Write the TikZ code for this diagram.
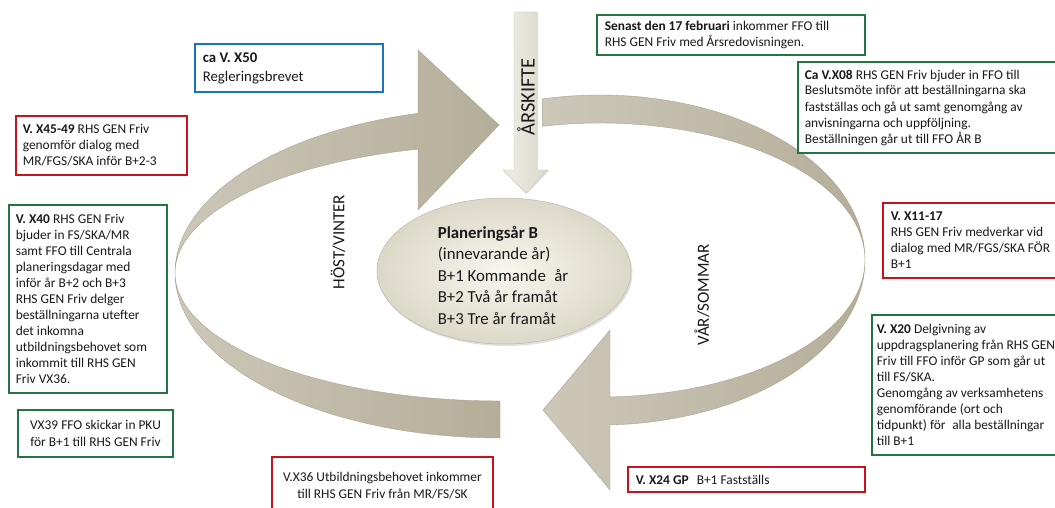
\documentclass[tikz,border=0pt]{standalone}
\usepackage{fontspec}
\setmainfont{Carlito}
\usetikzlibrary{shapes.geometric,shadows}
\definecolor{bred}{RGB}{200,18,30}
\definecolor{bgreen}{RGB}{34,118,68}
\definecolor{bblue}{RGB}{22,116,196}
\definecolor{tanA}{RGB}{204,199,184}
\definecolor{tanB}{RGB}{180,174,153}
\definecolor{tanEdge}{RGB}{170,164,145}
\definecolor{ellIn}{RGB}{248,246,238}
\definecolor{ellOut}{RGB}{220,216,200}
\definecolor{ellEdge}{RGB}{190,186,172}
\definecolor{arsA}{RGB}{240,238,230}
\definecolor{arsB}{RGB}{218,215,203}
\definecolor{arsEdge}{RGB}{200,197,186}
\definecolor{txtc}{RGB}{25,25,25}
\begin{document}
\begin{tikzpicture}[x=1pt,y=-1pt,
  frame/.style={draw, line width=2.8pt, fill=white, inner sep=0pt,
    drop shadow={opacity=0.25,shadow xshift=1.2pt,shadow yshift=-1.2pt}},
  txt/.style={inner sep=0pt, align=left, anchor=west, text=txtc, font=\fontsize{13.4}{16}\selectfont},
  ctxt/.style={inner sep=0pt, align=center, text=txtc, font=\fontsize{13.4}{17}\selectfont},
  band/.style={left color=tanA, right color=tanB, draw=tanEdge, line width=0.4pt},
  season/.style={rotate=90, inner sep=0pt, text=txtc, font=\fontsize{17}{20}\selectfont}
]
\useasboundingbox (0,0) rectangle (1055,508);
\clip (0,0) rectangle (1055,508);
\fill[white] (0,0) rectangle (1055,508);

% circular arrow 1 (HÖST/VINTER)
\path[band] plot[domain=90:255.4, samples=90, variable=\t] ({500+325*cos(\t)},{273+165*sin(\t)})
  -- (418,50) -- (499,125) -- (418,210)
  -- plot[domain=255.4:90, samples=90, variable=\t] ({500+325*cos(\t)},{273+128*sin(\t)}) -- cycle;

% circular arrow 2 (VÅR/SOMMAR)
\path[band] plot[domain=257.4:447.84, samples=120, variable=\t] ({600+265*cos(\t)},{260+165*sin(\t)})
  -- (610,490) -- (543,410) -- (610,330)
  -- plot[domain=447.84:257.4, samples=120, variable=\t] ({600+265*cos(\t)},{260+137*sin(\t)}) -- cycle;

% ÅRSKIFTE arrow
\path[left color=arsA, right color=arsB, draw=arsEdge, line width=0.4pt,
  drop shadow={opacity=0.2,shadow xshift=1pt,shadow yshift=-1pt}]
  (514,12) -- (537,12) -- (537,170) -- (548,170) -- (526,193) -- (503,170) -- (514,170) -- cycle;
\node[season, font=\fontsize{20.5}{22}\selectfont] (ars) at (526,97) {ÅRSKIFTE};

% centre ellipse
\node[ellipse, minimum width=254pt, minimum height=146pt, inner color=ellIn, outer color=ellOut,
  draw=ellEdge, line width=0.5pt,
  drop shadow={opacity=0.25,shadow xshift=1.5pt,shadow yshift=-2pt}] (plan) at (504,271) {};
\node[inner sep=0pt, align=left, text=txtc, font=\fontsize{16.8}{21.5}\selectfont] (plantext) at (503,275)
  {\textbf{Planeringsår B}\\(innevarande år)\\B+1 Kommande\hspace{0.5em}år\\B+2 Två år framåt\\B+3 Tre år framåt};

% season labels
\node[season] (hv) at (338,242) {HÖST/VINTER};
\node[season] (vs) at (702,295) {VÅR/SOMMAR};

% boxes
\node[frame, draw=bblue, minimum width=188pt, minimum height=48pt] (bx50) at (289,68) {};
\node[txt, font=\fontsize{14.8}{19}\selectfont] (bx50t) at ([xshift=9pt]bx50.west) {\textbf{ca V. X50}\\Regleringsbrevet};

\node[frame, draw=bred, minimum width=171pt, minimum height=59pt] (bx45) at (101.5,145.5) {};
\node[txt] (bx45t) at ([xshift=8pt]bx45.west) {\textbf{V. X45-49} RHS GEN Friv\\genomför dialog med\\MR/FGS/SKA inför B+2-3};

\node[frame, draw=bgreen, minimum width=268pt, minimum height=40pt] (bx17) at (731,35) {};
\node[txt] (bx17t) at ([xshift=9pt]bx17.west) {\textbf{Senast den 17 februari} inkommer FFO till\\RHS GEN Friv med Årsredovisningen.};

\node[frame, draw=bgreen, minimum width=277pt, minimum height=91pt] (bx08) at (936.5,107.5) {};
\node[txt] (bx08t) at ([xshift=8pt]bx08.west) {\textbf{Ca V.X08} RHS GEN Friv bjuder in FFO till\\Beslutsmöte inför att beställningarna ska\\fastställas och gå ut samt genomgång av\\anvisningarna och uppföljning.\\Beställningen går ut till FFO ÅR B};

\node[frame, draw=bgreen, minimum width=158pt, minimum height=188pt] (bx40) at (88,299) {};
\node[txt] (bx40t) at ([xshift=8pt]bx40.west) {\textbf{V. X40} RHS GEN Friv\\bjuder in FS/SKA/MR\\samt FFO till Centrala\\planeringsdagar med\\inför år B+2 och B+3\\RHS GEN Friv delger\\beställningarna utefter\\det inkomna\\utbildningsbehovet som\\inkommit till RHS GEN\\Friv VX36.};

\node[frame, draw=bgreen, minimum width=155pt, minimum height=47pt] (bx39) at (95.5,433.5) {};
\node[ctxt] (bx39t) at (bx39.center) {VX39 FFO skickar in PKU\\för B+1 till RHS GEN Friv};

\node[frame, draw=bred, minimum width=192pt, minimum height=75pt] (bx11) at (979,240.5) {};
\node[txt] (bx11t) at ([xshift=9pt]bx11.west) {\textbf{V. X11-17}\\RHS GEN Friv medverkar vid\\dialog med MR/FGS/SKA FÖR\\B+1};

\node[frame, draw=bgreen, minimum width=203pt, minimum height=140pt] (bx20) at (973.5,385) {};
\node[txt] (bx20t) at ([xshift=6pt]bx20.west) {\textbf{V. X20} Delgivning av\\uppdragsplanering från RHS GEN\\Friv till FFO inför GP som går ut\\till FS/SKA.\\Genomgång av verksamhetens\\genomförande (ort och\\tidpunkt) för\hspace{0.5em}alla beställningar\\till B+1};

\node[frame, draw=bred, minimum width=237pt, minimum height=25pt] (bx24) at (746.5,479.5) {};
\node[txt] (bx24t) at ([xshift=9pt]bx24.west) {\textbf{V. X24 GP}\hspace{0.6em}B+1 Fastställs};

\node[frame, draw=bred, minimum width=221pt, minimum height=58pt] (bx36) at (382.5,486) {};
\node[ctxt] (bx36t) at (bx36.center) {V.X36 Utbildningsbehovet inkommer\\till RHS GEN Friv från MR/FS/SK};
\end{tikzpicture}
\end{document}
